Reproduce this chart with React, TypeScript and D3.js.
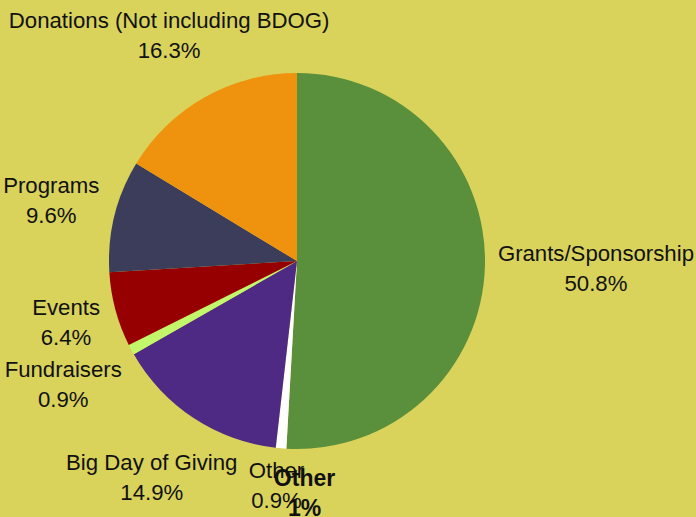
import React, { useEffect, useRef } from 'react';
import * as d3 from 'd3';

const categories = [
  'Grants/Sponsorship',
  'Other',
  'Big Day of Giving',
  'Fundraisers',
  'Events',
  'Programs',
  'Donations (Not including BDOG)',
];
const shares = [50.8, 0.9, 14.9, 0.9, 6.4, 9.6, 16.3];
const sliceColors = ['#5a8f3b', '#ffffff', '#4f2a84', '#c2f76b', '#960000', '#3b3d5b', '#ef930e'];

// the stray rounded callout that sits on top of the "Other" label
const extraLabel = { category: 'Other', title: 'Other', value: '1%' };

const WIDTH = 696;
const HEIGHT = 517;

// hand tweaks so labels land where the original renderer put them
const labelNudge: Record<string, [number, number]> = {
  'Donations (Not including BDOG)': [50, -30],
  'Programs': [-3, -7],
  'Events': [-3, 3],
  'Fundraisers': [-4, 17],
  'Big Day of Giving': [13, 28],
  'Other': [-1, 0],
  'Grants/Sponsorship': [-1, 1],
};

export default function App() {
  const svgRef = useRef<SVGSVGElement>(null);

  useEffect(() => {
    document.body.style.margin = '0';
    if (!svgRef.current) return;

    const svg = d3.select(svgRef.current);
    svg.selectAll('*').remove();

    const cx = 297;
    const cy = 261;
    const radius = 188;
    const pad = 14;
    const lineGap = 30;
    const font = '"Liberation Sans", Arial, sans-serif';

    svg.append('rect').attr('width', WIDTH).attr('height', HEIGHT).attr('fill', '#d9d35b');

    const data = categories.map((c, i) => ({ category: c, value: shares[i], color: sliceColors[i] }));

    const pie = d3.pie<any>().sort(null).value(d => d.value);
    const arcs = pie(data);
    const arc = d3.arc<any>().innerRadius(0).outerRadius(radius);

    const g = svg.append('g').attr('transform', `translate(${cx},${cy})`);

    g.selectAll('path')
      .data(arcs)
      .enter()
      .append('path')
      .attr('d', arc)
      .attr('fill', d => d.data.color);

    const labels = svg.append('g').attr('font-family', font).attr('font-size', 22.2).attr('fill', '#111');

    const placeBlock = (mid: number, w: number) => {
      const s = Math.sin(mid);
      const c = Math.cos(mid);
      const px = cx + (radius + pad) * s;
      const py = cy - (radius + pad) * c;
      const h = 46;
      const bx = px + s * w / 2;
      const byCenter = py - c * h / 2;
      return { x: bx, y: byCenter - 7 };
    };

    arcs.forEach(a => {
      const mid = (a.startAngle + a.endAngle) / 2;
      const name = a.data.category;
      const t = labels.append('text').attr('text-anchor', 'middle');
      const l1 = t.append('tspan').text(name);
      const w = (l1.node() as SVGTSpanElement).getComputedTextLength();
      const pos = placeBlock(mid, w);
      const [dx, dy] = labelNudge[name] || [0, 0];
      const x = pos.x + dx;
      const y = pos.y + dy;
      l1.attr('x', x).attr('y', y);
      t.append('tspan').attr('x', x).attr('y', y + lineGap).text(`${a.data.value.toFixed(1)}%`);
    });

    // bold duplicate callout
    const other = arcs.find(a => a.data.category === extraLabel.category);
    if (other) {
      const mid = (other.startAngle + other.endAngle) / 2;
      const pos = placeBlock(mid, 55);
      const x = pos.x + 27;
      const y = pos.y + 8;
      const t = labels.append('text').attr('text-anchor', 'middle').attr('font-weight', 'bold').attr('font-size', 23);
      t.append('tspan').attr('x', x).attr('y', y).text(extraLabel.title);
      t.append('tspan').attr('x', x).attr('y', y + lineGap).text(extraLabel.value);
    }
  }, []);

  return <svg ref={svgRef} width={WIDTH} height={HEIGHT} style={{ display: 'block' }} />;
}
